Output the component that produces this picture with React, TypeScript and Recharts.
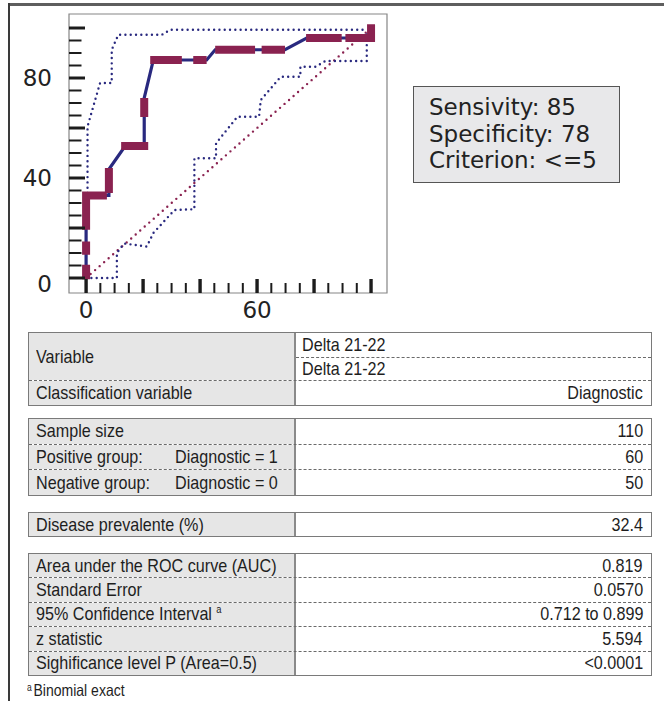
import React from 'react';
import { LineChart, Line, XAxis, YAxis, ReferenceArea } from 'recharts';

// ROC curve (100 - specificity, sensitivity)
const ROC_FPR = [0, 0, 8, 8, 13.7, 20.4, 20.4, 23.6, 42.3, 45.3, 69.8, 77.4, 100, 100];
const ROC_SENS = [0, 33, 33, 43.5, 52.8, 52.8, 72, 87.2, 87.2, 91.3, 91.3, 96, 96, 100];

// 95% confidence bounds
const UPPER_FPR = [0.5, 0.5, 4.9, 9, 9, 11.3, 26.6, 29.5, 98.5];
const UPPER_SENS = [34, 60.6, 78, 78, 91.3, 97.3, 97.3, 99.3, 99.3];
const LOWER_FPR = [0, 10.8, 10.8, 13.3, 21.3, 23.6, 31, 38, 38, 45.6, 45.6, 53.1, 60.7, 61.3, 68.3, 75.2, 75.2, 80.5, 84, 98.5, 98.5];
const LOWER_SENS = [0, 0, 10, 13.8, 12.6, 18, 27.2, 27.5, 47.9, 47.9, 53.9, 64.5, 64.5, 71.2, 80.5, 80.5, 84.5, 84.5, 86.8, 86.8, 99.3];

// reference diagonal
const CHANCE_FPR = [0, 100];
const CHANCE_SENS = [0, 100];

// thick maroon dashes over the steps of the curve
const STEP_SEGMENTS: number[][][] = [
  [[0, -0.5], [0, 5.3]],
  [[0, 9.3], [0, 14.6]],
  [[0, 19.3], [0, 33], [7.3, 33]],
  [[8, 34], [8, 44]],
  [[12.3, 52.8], [21.8, 52.8]],
  [[20.4, 64.4], [20.4, 72]],
  [[22.5, 87.2], [33.6, 87.2]],
  [[37.6, 87.2], [42.3, 87.2]],
  [[45.3, 91.3], [59.3, 91.3]],
  [[61.6, 91.3], [69.8, 91.3]],
  [[77.2, 96], [89.7, 96]],
  [[91, 96], [100, 96], [100, 101.5]],
];

const DOMAIN = [-6, 105.6];
const TICKS = [0, 5, 10, 15, 20, 25, 30, 35, 40, 45, 50, 55, 60, 65, 70, 75, 80, 85, 90, 95, 100];
const X_LABELS = [0, 60];
const Y_LABELS = [0, 40, 80];

const STATS = ['Sensivity: 85', 'Specificity: 78', 'Criterion: <=5'];

const TABLE_VARIABLE = [
  { label: 'Variable', values: ['Delta 21-22', 'Delta 21-22'], align: 'left' },
  { label: 'Classification variable', values: ['Diagnostic'], align: 'right' },
];
const TABLE_SAMPLE = [
  { label: 'Sample size', values: ['110'], align: 'right' },
  { label: 'Positive group:', sub: 'Diagnostic = 1', values: ['60'], align: 'right' },
  { label: 'Negative group:', sub: 'Diagnostic = 0', values: ['50'], align: 'right' },
];
const TABLE_PREV = [{ label: 'Disease prevalente (%)', values: ['32.4'], align: 'right' }];
const TABLE_AUC = [
  { label: 'Area under the ROC curve (AUC)', values: ['0.819'], align: 'right' },
  { label: 'Standard Error', values: ['0.0570'], align: 'right' },
  { label: '95% Confidence Interval', sup: 'a', values: ['0.712 to 0.899'], align: 'right' },
  { label: 'z statistic', values: ['5.594'], align: 'right' },
  { label: 'Sighificance level P (Area=0.5)', values: ['<0.0001'], align: 'right' },
];

const NAVY = '#29297f';
const MAROON = '#8a2250';
const TICK_COLOR = '#1c1c1c';
const TEXT_COLOR = '#1e1e1e';
const CHART_FONT = '"DejaVu Sans", sans-serif';
const TABLE_FONT = '"Liberation Sans", Arial, sans-serif';
const NARROW = 0.85;

const toPoints = (xs: number[], ys: number[]) => xs.map((x, i) => ({ x, y: ys[i] }));

const rocData = toPoints(ROC_FPR, ROC_SENS);
const upperData = toPoints(UPPER_FPR, UPPER_SENS);
const lowerData = toPoints(LOWER_FPR, LOWER_SENS);
const chanceData = toPoints(CHANCE_FPR, CHANCE_SENS);
const stepData = STEP_SEGMENTS.flatMap((seg) => [
  ...seg.map(([x, y]) => ({ x, y })),
  { x: seg[seg.length - 1][0], y: null },
]);

const XTick = (props: any) => {
  const { x, y, payload } = props;
  const major = payload.value % 20 === 0;
  return (
    <g>
      <line x1={x} x2={x} y1={y} y2={y - (major ? 14 : 10)} stroke={TICK_COLOR} strokeWidth={major ? 3.4 : 2} />
      {X_LABELS.includes(payload.value) && (
        <text x={x} y={y + 17} textAnchor="middle" dominantBaseline="central" fontSize={23} fontFamily={CHART_FONT} fill="#222">
          {payload.value}
        </text>
      )}
    </g>
  );
};

const YTick = (props: any) => {
  const { x, y, payload } = props;
  const major = payload.value % 20 === 0;
  return (
    <g>
      <line x1={x} x2={x + (major ? 16 : 12.5)} y1={y} y2={y} stroke={TICK_COLOR} strokeWidth={major ? 3 : 2} />
      {Y_LABELS.includes(payload.value) && (
        <text x={x - 17} y={payload.value === 0 ? y + 6 : y} textAnchor="end" dominantBaseline="central" fontSize={23} fontFamily={CHART_FONT} fill="#222">
          {payload.value}
        </text>
      )}
    </g>
  );
};

// condensed text: the reference uses a narrow face, so squeeze a regular one
const Narrow = ({ children, origin = 'left' }: { children: React.ReactNode; origin?: string }) => (
  <span style={{ display: 'inline-block', transform: `scaleX(${NARROW})`, transformOrigin: `${origin} center`, whiteSpace: 'nowrap' }}>
    {children}
  </span>
);

type Row = { label: string; sub?: string; sup?: string; values: string[]; align: string };

const StatTable = ({ top, rows, rowHeight }: { top: number; rows: Row[]; rowHeight: number }) => (
  <div
    style={{
      position: 'absolute',
      left: 28,
      top,
      width: 624,
      border: '1.5px solid #7a7a7a',
      boxSizing: 'border-box',
      fontFamily: TABLE_FONT,
      fontSize: 19,
      color: TEXT_COLOR,
    }}
  >
    {rows.map((row, i) => (
      <div key={row.label} style={{ display: 'flex', borderTop: i > 0 ? '1px dashed #6a6a6a' : 'none' }}>
        <div
          style={{
            width: 267,
            flex: 'none',
            background: '#e6e6e6',
            borderRight: '2px solid #8a8a8a',
            display: 'flex',
            alignItems: 'center',
            paddingLeft: 6.5,
            boxSizing: 'border-box',
            position: 'relative',
            whiteSpace: 'nowrap',
          }}
        >
          <Narrow>
            {row.label}
            {row.sup && <sup style={{ fontSize: 11, marginLeft: 5, verticalAlign: 7 }}>{row.sup}</sup>}
          </Narrow>
          {row.sub && (
            <span style={{ position: 'absolute', left: 145.5 }}>
              <Narrow>{row.sub}</Narrow>
            </span>
          )}
        </div>
        <div style={{ flex: 1 }}>
          {row.values.map((v, j) => (
            <div
              key={j}
              style={{
                height: rowHeight,
                display: 'flex',
                alignItems: 'center',
                justifyContent: row.align === 'left' ? 'flex-start' : 'flex-end',
                padding: '0 8px 0 6px',
                borderTop: j > 0 ? '1px dashed #6a6a6a' : 'none',
                boxSizing: 'border-box',
                whiteSpace: 'nowrap',
              }}
            >
              <Narrow origin={row.align === 'left' ? 'left' : 'right'}>{v}</Narrow>
            </div>
          ))}
        </div>
      </div>
    ))}
  </div>
);

export default function App() {
  return (
    <div style={{ position: 'absolute', left: 0, top: 0, width: 664, height: 701, overflow: 'hidden', background: '#fff' }}>
      <div style={{ position: 'absolute', left: 0, top: 0 }}>
        <LineChart width={400} height={330} margin={{ top: 14, right: 13, bottom: 10, left: 0 }}>
          <XAxis
            type="number"
            dataKey="x"
            domain={DOMAIN}
            ticks={TICKS}
            interval={0}
            height={27}
            tickSize={0}
            tickMargin={0}
            tickLine={false}
            axisLine={false}
            tick={(p: any) => <XTick {...p} />}
            allowDataOverflow
          />
          <YAxis
            type="number"
            dataKey="y"
            domain={DOMAIN}
            ticks={TICKS}
            interval={0}
            width={69}
            tickSize={0}
            tickMargin={0}
            tickLine={false}
            axisLine={false}
            tick={(p: any) => <YTick {...p} />}
            allowDataOverflow
          />
          <ReferenceArea x1={DOMAIN[0]} x2={DOMAIN[1]} y1={DOMAIN[0]} y2={DOMAIN[1]} fill="#fff" fillOpacity={0} stroke="#858585" strokeWidth={1.2} />
          <Line data={chanceData} dataKey="y" type="linear" stroke={MAROON} strokeWidth={2.4} strokeDasharray="0 6" strokeLinecap="round" dot={false} isAnimationActive={false} />
          <Line data={lowerData} dataKey="y" type="linear" stroke={NAVY} strokeWidth={2.4} strokeDasharray="0 5.3" strokeLinecap="round" dot={false} isAnimationActive={false} />
          <Line data={upperData} dataKey="y" type="linear" stroke={NAVY} strokeWidth={2.4} strokeDasharray="0 5.3" strokeLinecap="round" dot={false} isAnimationActive={false} />
          <Line data={rocData} dataKey="y" type="linear" stroke={NAVY} strokeWidth={3.2} dot={false} isAnimationActive={false} />
          <Line data={stepData} dataKey="y" type="linear" stroke={MAROON} strokeWidth={8} strokeLinecap="butt" strokeLinejoin="miter" connectNulls={false} dot={false} isAnimationActive={false} />
        </LineChart>
      </div>
      <div
        style={{
          position: 'absolute',
          left: 413,
          top: 86,
          width: 207,
          height: 97,
          boxSizing: 'border-box',
          background: '#e8e8ea',
          border: '1px solid #555',
          padding: '7px 0 0 15px',
          fontFamily: CHART_FONT,
          fontSize: 23,
          lineHeight: '26.7px',
          color: '#222',
          whiteSpace: 'nowrap',
        }}
      >
        {STATS.map((s) => (
          <div key={s}>{s}</div>
        ))}
      </div>
      <StatTable top={332} rows={TABLE_VARIABLE as Row[]} rowHeight={23.5} />
      <StatTable top={418} rows={TABLE_SAMPLE as Row[]} rowHeight={24.7} />
      <StatTable top={512} rows={TABLE_PREV as Row[]} rowHeight={23} />
      <StatTable top={553} rows={TABLE_AUC as Row[]} rowHeight={23.4} />
      <div
        style={{
          position: 'absolute',
          left: 27,
          top: 679,
          fontFamily: TABLE_FONT,
          fontSize: 16.5,
          lineHeight: '18px',
          color: TEXT_COLOR,
          whiteSpace: 'nowrap',
        }}
      >
        <Narrow>
          <span style={{ fontSize: 10, verticalAlign: 5, marginRight: 2 }}>a</span>Binomial exact
        </Narrow>
      </div>
      {/* page frame, top and left edges */}
      <div style={{ position: 'absolute', left: 8, top: 3, width: 656, height: 2.5, background: '#5e5e5e', zIndex: 5 }} />
      <div style={{ position: 'absolute', left: 8, top: 3, width: 2, height: 698, background: '#3a3a3a', zIndex: 5 }} />
    </div>
  );
}
